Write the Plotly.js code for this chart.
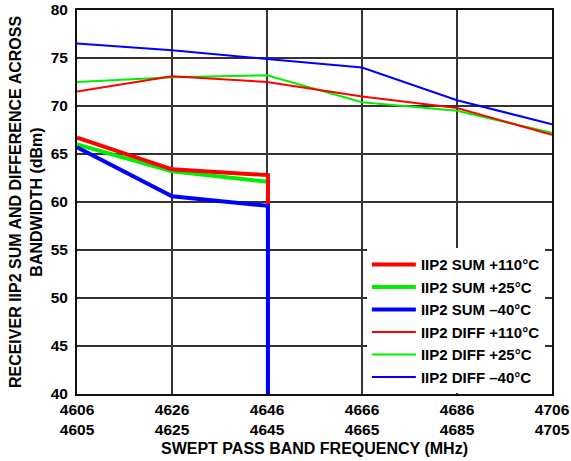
<!DOCTYPE html>
<html>
<head>
<meta charset="utf-8">
<script src="https://cdn.plot.ly/plotly-3.0.1.min.js"></script>
<style>html,body{margin:0;padding:0;background:#fff;}#chart{width:571px;height:461px;}</style>
</head>
<body>
<div id="chart"></div>
<script>
// Frequencies (MHz)
const freqs = [4606, 4626, 4646, 4666, 4686, 4706];
const tickLabelsTop = ['4606', '4626', '4646', '4666', '4686', '4706'];
const tickLabelsBottom = ['4605', '4625', '4645', '4665', '4685', '4705'];

// IIP2 SUM series (drop to floor just after 4646 MHz)
const sumX = [4606, 4626, 4646.2, 4646.2];
const sum110 = [66.7, 63.4, 62.8, 40];
const sum25 = [66.0, 63.2, 62.1, 40];
const sumM40 = [65.7, 60.6, 59.6, 40];

// IIP2 DIFF series
const diff110 = [71.5, 73.1, 72.5, 71.0, 69.8, 67.0];
const diff25 = [72.5, 73.0, 73.2, 70.4, 69.5, 67.2];
const diffM40 = [76.5, 75.8, 74.9, 74.0, 70.6, 68.1];

const yTicks = [40, 45, 50, 55, 60, 65, 70, 75, 80];

const RED = '#ff0000', GREEN = '#00ee00', BLUE = '#0000ff';
const FONT = 'Liberation Sans, Arial, sans-serif';

const traces = [
  {x: freqs, y: diff25, name: 'IIP2 DIFF +25°C', mode: 'lines', line: {color: GREEN, width: 2}, legendrank: 5},
  {x: freqs, y: diff110, name: 'IIP2 DIFF +110°C', mode: 'lines', line: {color: RED, width: 2}, legendrank: 4},
  {x: freqs, y: diffM40, name: 'IIP2 DIFF –40°C', mode: 'lines', line: {color: BLUE, width: 2}, legendrank: 6},
  {x: sumX, y: sum25, name: 'IIP2 SUM +25°C', mode: 'lines', line: {color: GREEN, width: 4}, legendrank: 2},
  {x: sumX, y: sum110, name: 'IIP2 SUM +110°C', mode: 'lines', line: {color: RED, width: 4}, legendrank: 1},
  {x: sumX, y: sumM40, name: 'IIP2 SUM –40°C', mode: 'lines', line: {color: BLUE, width: 4}, legendrank: 3}
];

const layout = {
  width: 571, height: 461,
  margin: {l: 77, r: 19, t: 10, b: 67},
  paper_bgcolor: '#fff', plot_bgcolor: '#fff',
  font: {family: FONT, color: '#000'},
  showlegend: true,
  legend: {
    x: 0.985, y: 0.002, xanchor: 'right', yanchor: 'bottom',
    bgcolor: '#fff', borderwidth: 0,
    itemwidth: 44,
    font: {family: FONT, size: 15, weight: 'bold', color: '#000'},
    traceorder: 'normal'
  },
  xaxis: {
    range: [4606, 4706],
    tickvals: freqs,
    ticktext: tickLabelsTop.map((t, i) => t + '<br>' + tickLabelsBottom[i]),
    tickfont: {family: FONT, size: 15.5, weight: 'bold', color: '#000'},
    ticks: '',
    showgrid: true, gridcolor: '#333', gridwidth: 1.2,
    showline: true, linecolor: '#111', linewidth: 2, mirror: true,
    zeroline: false,
    title: {text: 'SWEPT PASS BAND FREQUENCY (MHz)', font: {family: FONT, size: 16, weight: 'bold', color: '#000'}, standoff: 6}
  },
  yaxis: {
    range: [40, 80],
    tickvals: yTicks,
    tickfont: {family: FONT, size: 15.5, weight: 'bold', color: '#000'},
    ticks: '',
    ticklabelstandoff: 4,
    showgrid: true, gridcolor: '#333', gridwidth: 1.2,
    showline: true, linecolor: '#111', linewidth: 2, mirror: true,
    zeroline: false,
    title: {text: 'RECEIVER IIP2 SUM AND DIFFERENCE ACROSS<br>BANDWIDTH (dBm)', font: {family: FONT, size: 16, weight: 'bold', color: '#000'}, standoff: 4}
  }
};

Plotly.newPlot('chart', traces, layout, {displayModeBar: false, staticPlot: true});
</script>
</body>
</html>
